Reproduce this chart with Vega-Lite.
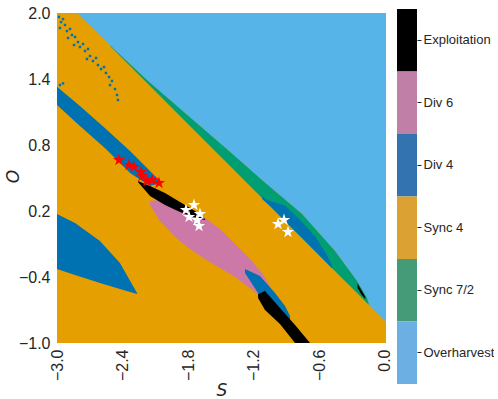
{
  "$schema": "https://vega.github.io/schema/vega-lite/v6.json",
  "padding": {"left": 4, "top": 5, "right": 0, "bottom": 0},
  "spacing": 4,
  "bounds": "full",
  "resolve": {"scale": {"color": "independent", "fill": "independent", "x": "independent", "y": "independent"}},
  "config": {
    "view": {"stroke": null},
    "axis": {"domain": false, "ticks": false, "grid": false, "labelFont": "Liberation Sans", "labelFontSize": 16, "labelColor": "#262626", "titleFont": "DejaVu Sans", "titleFontStyle": "italic", "titleFontWeight": "normal", "titleFontSize": 17, "titleColor": "#262626"},
    "axisX": {"labelAngle": 270, "labelPadding": 6, "titlePadding": 2},
    "axisY": {"labelPadding": 7, "titlePadding": -4}
  },
  "datasets": {
    "regions": [
      {"id": "l1", "cls": "Overharvest", "s": -2.817, "o": 2.0, "o2": 2.0},
      {"id": "l1", "cls": "Overharvest", "s": -2.46, "o": 1.655, "o2": 2.0},
      {"id": "l1", "cls": "Overharvest", "s": -2.167, "o": 1.382, "o2": 2.0},
      {"id": "l1", "cls": "Overharvest", "s": -1.829, "o": 1.091, "o2": 2.0},
      {"id": "l1", "cls": "Overharvest", "s": -1.426, "o": 0.745, "o2": 2.0},
      {"id": "l1", "cls": "Overharvest", "s": -1.115, "o": 0.473, "o2": 2.0},
      {"id": "l1", "cls": "Overharvest", "s": -0.758, "o": 0.173, "o2": 2.0},
      {"id": "l1", "cls": "Overharvest", "s": -0.457, "o": -0.164, "o2": 2.0},
      {"id": "l1", "cls": "Overharvest", "s": -0.255, "o": -0.436, "o2": 2.0},
      {"id": "l1", "cls": "Overharvest", "s": -0.164, "o": -0.591, "o2": 2.0},
      {"id": "l1", "cls": "Overharvest", "s": -0.145, "o": -0.655, "o2": 2.0},
      {"id": "l1", "cls": "Overharvest", "s": 0.01, "o": -0.81, "o2": 2.0},
      {"id": "g1", "cls": "Sync 7/2", "s": -2.515, "o": 1.7, "o2": 1.707},
      {"id": "g1", "cls": "Sync 7/2", "s": -2.46, "o": 1.645, "o2": 1.655},
      {"id": "g1", "cls": "Sync 7/2", "s": -2.167, "o": 1.355, "o2": 1.382},
      {"id": "g1", "cls": "Sync 7/2", "s": -1.829, "o": 1.018, "o2": 1.091},
      {"id": "g1", "cls": "Sync 7/2", "s": -1.426, "o": 0.618, "o2": 0.745},
      {"id": "g1", "cls": "Sync 7/2", "s": -1.115, "o": 0.309, "o2": 0.473},
      {"id": "g1", "cls": "Sync 7/2", "s": -0.758, "o": -0.045, "o2": 0.173},
      {"id": "g1", "cls": "Sync 7/2", "s": -0.457, "o": -0.345, "o2": -0.164},
      {"id": "g1", "cls": "Sync 7/2", "s": -0.255, "o": -0.545, "o2": -0.436},
      {"id": "g1", "cls": "Sync 7/2", "s": -0.164, "o": -0.636, "o2": -0.591},
      {"id": "g1", "cls": "Sync 7/2", "s": -0.145, "o": -0.655, "o2": -0.655},
      {"id": "p1", "cls": "Div 6", "s": -2.149, "o": 0.255, "o2": 0.291},
      {"id": "p1", "cls": "Div 6", "s": -2.058, "o": 0.11, "o2": 0.3},
      {"id": "p1", "cls": "Div 6", "s": -1.92, "o": -0.036, "o2": 0.264},
      {"id": "p1", "cls": "Div 6", "s": -1.783, "o": -0.145, "o2": 0.2},
      {"id": "p1", "cls": "Div 6", "s": -1.646, "o": -0.236, "o2": 0.136},
      {"id": "p1", "cls": "Div 6", "s": -1.509, "o": -0.318, "o2": 0.036},
      {"id": "p1", "cls": "Div 6", "s": -1.371, "o": -0.4, "o2": -0.1},
      {"id": "p1", "cls": "Div 6", "s": -1.234, "o": -0.5, "o2": -0.236},
      {"id": "p1", "cls": "Div 6", "s": -1.124, "o": -0.59, "o2": -0.364},
      {"id": "p1", "cls": "Div 6", "s": -1.051, "o": -0.62, "o2": -0.482},
      {"id": "b1", "cls": "Div 4", "s": -3.0, "o": 1.164, "o2": 1.33},
      {"id": "b1", "cls": "Div 4", "s": -2.79, "o": 0.973, "o2": 1.155},
      {"id": "b1", "cls": "Div 4", "s": -2.552, "o": 0.764, "o2": 0.945},
      {"id": "b1", "cls": "Div 4", "s": -2.332, "o": 0.545, "o2": 0.745},
      {"id": "b1", "cls": "Div 4", "s": -2.149, "o": 0.427, "o2": 0.564},
      {"id": "b1", "cls": "Div 4", "s": -2.058, "o": 0.455, "o2": 0.473},
      {"id": "b2", "cls": "Div 4", "s": -3.0, "o": -0.327, "o2": 0.173},
      {"id": "b2", "cls": "Div 4", "s": -2.835, "o": -0.382, "o2": 0.091},
      {"id": "b2", "cls": "Div 4", "s": -2.607, "o": -0.455, "o2": -0.073},
      {"id": "b2", "cls": "Div 4", "s": -2.424, "o": -0.509, "o2": -0.273},
      {"id": "b2", "cls": "Div 4", "s": -2.268, "o": -0.555, "o2": -0.545},
      {"id": "b3", "cls": "Div 4", "s": -1.28, "o": -0.364, "o2": -0.327},
      {"id": "b3", "cls": "Div 4", "s": -1.143, "o": -0.573, "o2": -0.391},
      {"id": "b3", "cls": "Div 4", "s": -1.005, "o": -0.727, "o2": -0.545},
      {"id": "b3", "cls": "Div 4", "s": -0.914, "o": -0.818, "o2": -0.664},
      {"id": "b3", "cls": "Div 4", "s": -0.868, "o": -0.782, "o2": -0.755},
      {"id": "b4", "cls": "Div 4", "s": -1.124, "o": 0.31, "o2": 0.33},
      {"id": "b4", "cls": "Div 4", "s": -1.051, "o": 0.245, "o2": 0.29},
      {"id": "b4", "cls": "Div 4", "s": -0.914, "o": 0.109, "o2": 0.25},
      {"id": "b4", "cls": "Div 4", "s": -0.777, "o": -0.027, "o2": 0.12},
      {"id": "b4", "cls": "Div 4", "s": -0.64, "o": -0.164, "o2": -0.03},
      {"id": "b4", "cls": "Div 4", "s": -0.53, "o": -0.273, "o2": -0.2},
      {"id": "b4", "cls": "Div 4", "s": -0.484, "o": -0.32, "o2": -0.3},
      {"id": "k1", "cls": "Exploitation", "s": -2.259, "o": 0.464, "o2": 0.473},
      {"id": "k1", "cls": "Exploitation", "s": -2.149, "o": 0.336, "o2": 0.427},
      {"id": "k1", "cls": "Exploitation", "s": -2.012, "o": 0.255, "o2": 0.364},
      {"id": "k1", "cls": "Exploitation", "s": -1.875, "o": 0.19, "o2": 0.282},
      {"id": "k1", "cls": "Exploitation", "s": -1.737, "o": 0.14, "o2": 0.2},
      {"id": "k1", "cls": "Exploitation", "s": -1.646, "o": 0.118, "o2": 0.127},
      {"id": "k2", "cls": "Exploitation", "s": -1.16, "o": -0.59, "o2": -0.555},
      {"id": "k2", "cls": "Exploitation", "s": -1.097, "o": -0.7, "o2": -0.527},
      {"id": "k2", "cls": "Exploitation", "s": -0.96, "o": -0.827, "o2": -0.682},
      {"id": "k2", "cls": "Exploitation", "s": -0.822, "o": -1.0, "o2": -0.836},
      {"id": "k2", "cls": "Exploitation", "s": -0.685, "o": -1.0, "o2": -1.0},
      {"id": "k3", "cls": "Exploitation", "s": -0.25, "o": -0.5, "o2": -0.46},
      {"id": "k3", "cls": "Exploitation", "s": -0.215, "o": -0.56, "o2": -0.52},
      {"id": "k3", "cls": "Exploitation", "s": -0.18, "o": -0.6, "o2": -0.58}
    ],
    "speckles": [
      {"s": -2.982, "o": 1.964}, {"s": -2.963, "o": 1.918}, {"s": -2.945, "o": 1.945}, {"s": -2.973, "o": 1.864},
      {"s": -2.927, "o": 1.891}, {"s": -2.909, "o": 1.836}, {"s": -2.881, "o": 1.855}, {"s": -2.863, "o": 1.8},
      {"s": -2.899, "o": 1.773}, {"s": -2.835, "o": 1.782}, {"s": -2.808, "o": 1.736}, {"s": -2.844, "o": 1.709},
      {"s": -2.79, "o": 1.691}, {"s": -2.762, "o": 1.718}, {"s": -2.744, "o": 1.655}, {"s": -2.716, "o": 1.673},
      {"s": -2.698, "o": 1.609}, {"s": -2.726, "o": 1.582}, {"s": -2.671, "o": 1.564}, {"s": -2.643, "o": 1.591},
      {"s": -2.625, "o": 1.527}, {"s": -2.597, "o": 1.491}, {"s": -2.57, "o": 1.509}, {"s": -2.552, "o": 1.455},
      {"s": -2.524, "o": 1.418}, {"s": -2.497, "o": 1.382}, {"s": -2.515, "o": 1.345}, {"s": -2.469, "o": 1.309},
      {"s": -2.451, "o": 1.255}, {"s": -2.442, "o": 1.209}, {"s": -2.652, "o": 0.964}, {"s": -2.607, "o": 0.945},
      {"s": -2.57, "o": 0.918}, {"s": -2.973, "o": 1.345}, {"s": -2.945, "o": 1.36}
    ],
    "stars": [
      {"set": "red", "s": -2.433, "o": 0.664},
      {"set": "red", "s": -2.341, "o": 0.618},
      {"set": "red", "s": -2.296, "o": 0.6},
      {"set": "red", "s": -2.231, "o": 0.555},
      {"set": "red", "s": -2.222, "o": 0.518},
      {"set": "red", "s": -2.177, "o": 0.473},
      {"set": "red", "s": -2.131, "o": 0.482},
      {"set": "red", "s": -2.067, "o": 0.455},
      {"set": "white", "s": -1.747, "o": 0.255},
      {"set": "white", "s": -1.82, "o": 0.209},
      {"set": "white", "s": -1.692, "o": 0.173},
      {"set": "white", "s": -1.792, "o": 0.145},
      {"set": "white", "s": -1.719, "o": 0.118},
      {"set": "white", "s": -1.701, "o": 0.064},
      {"set": "white", "s": -0.978, "o": 0.082},
      {"set": "white", "s": -0.923, "o": 0.118},
      {"set": "white", "s": -0.887, "o": 0.009}
    ],
    "classes": [
      {"cls": "Exploitation"}, {"cls": "Div 6"}, {"cls": "Div 4"}, {"cls": "Sync 4"}, {"cls": "Sync 7/2"}, {"cls": "Overharvest"}
    ]
  },
  "hconcat": [
    {
      "width": 329,
      "height": 334,
      "layer": [
        {
          "data": {"values": [{"cls": "Sync 4", "s": -3.0, "s2": 0.01, "o": -1.0, "o2": 2.0}]},
          "mark": {"type": "rect"},
          "encoding": {
            "x": {"field": "s", "type": "quantitative", "scale": {"domain": [-3, 0.01], "nice": false, "zero": false}, "axis": {"values": [-3, -2.4, -1.8, -1.2, -0.6, 0], "format": ".1f", "title": "S"}},
            "x2": {"field": "s2"},
            "y": {"field": "o", "type": "quantitative", "scale": {"domain": [-1, 2.0364], "nice": false, "zero": false}, "axis": {"values": [-1, -0.4, 0.2, 0.8, 1.4, 2], "format": ".1f", "title": "O"}},
            "y2": {"field": "o2"},
            "color": {"field": "cls", "type": "nominal", "scale": {"domain": ["Exploitation", "Div 6", "Div 4", "Sync 4", "Sync 7/2", "Overharvest"], "range": ["#000000", "#CC79A7", "#0072B2", "#E69F00", "#009E73", "#56B4E9"]}, "legend": null}
          }
        },
        {
          "data": {"name": "speckles"},
          "mark": {"type": "square", "size": 6, "filled": true, "opacity": 1, "color": "#0072B2"},
          "encoding": {
            "x": {"field": "s", "type": "quantitative", "axis": {"values": [-3, -2.4, -1.8, -1.2, -0.6, 0], "format": ".1f", "title": "S"}},
            "y": {"field": "o", "type": "quantitative", "axis": {"values": [-1, -0.4, 0.2, 0.8, 1.4, 2], "format": ".1f", "title": "O"}}
          }
        },
        {
          "data": {"name": "regions"},
          "transform": [{"filter": "datum.cls == 'Overharvest'"}],
          "mark": {"type": "area", "opacity": 1},
          "encoding": {
            "x": {"field": "s", "type": "quantitative", "axis": {"values": [-3, -2.4, -1.8, -1.2, -0.6, 0], "format": ".1f", "title": "S"}},
            "y": {"field": "o", "type": "quantitative", "axis": {"values": [-1, -0.4, 0.2, 0.8, 1.4, 2], "format": ".1f", "title": "O"}},
            "y2": {"field": "o2"},
            "detail": {"field": "id"},
            "color": {"field": "cls", "type": "nominal", "legend": null}
          }
        },
        {
          "data": {"name": "regions"},
          "transform": [{"filter": "datum.cls == 'Sync 7/2'"}],
          "mark": {"type": "area", "opacity": 1},
          "encoding": {
            "x": {"field": "s", "type": "quantitative", "axis": {"values": [-3, -2.4, -1.8, -1.2, -0.6, 0], "format": ".1f", "title": "S"}},
            "y": {"field": "o", "type": "quantitative", "axis": {"values": [-1, -0.4, 0.2, 0.8, 1.4, 2], "format": ".1f", "title": "O"}},
            "y2": {"field": "o2"},
            "detail": {"field": "id"},
            "color": {"field": "cls", "type": "nominal", "legend": null}
          }
        },
        {
          "data": {"name": "regions"},
          "transform": [{"filter": "datum.cls == 'Div 6'"}],
          "mark": {"type": "area", "opacity": 1},
          "encoding": {
            "x": {"field": "s", "type": "quantitative", "axis": {"values": [-3, -2.4, -1.8, -1.2, -0.6, 0], "format": ".1f", "title": "S"}},
            "y": {"field": "o", "type": "quantitative", "axis": {"values": [-1, -0.4, 0.2, 0.8, 1.4, 2], "format": ".1f", "title": "O"}},
            "y2": {"field": "o2"},
            "detail": {"field": "id"},
            "color": {"field": "cls", "type": "nominal", "legend": null}
          }
        },
        {
          "data": {"name": "regions"},
          "transform": [{"filter": "datum.cls == 'Div 4'"}],
          "mark": {"type": "area", "opacity": 1},
          "encoding": {
            "x": {"field": "s", "type": "quantitative", "axis": {"values": [-3, -2.4, -1.8, -1.2, -0.6, 0], "format": ".1f", "title": "S"}},
            "y": {"field": "o", "type": "quantitative", "axis": {"values": [-1, -0.4, 0.2, 0.8, 1.4, 2], "format": ".1f", "title": "O"}},
            "y2": {"field": "o2"},
            "detail": {"field": "id"},
            "color": {"field": "cls", "type": "nominal", "legend": null}
          }
        },
        {
          "data": {"name": "regions"},
          "transform": [{"filter": "datum.cls == 'Exploitation'"}],
          "mark": {"type": "area", "opacity": 1},
          "encoding": {
            "x": {"field": "s", "type": "quantitative", "axis": {"values": [-3, -2.4, -1.8, -1.2, -0.6, 0], "format": ".1f", "title": "S"}},
            "y": {"field": "o", "type": "quantitative", "axis": {"values": [-1, -0.4, 0.2, 0.8, 1.4, 2], "format": ".1f", "title": "O"}},
            "y2": {"field": "o2"},
            "detail": {"field": "id"},
            "color": {"field": "cls", "type": "nominal", "legend": null}
          }
        },
        {
          "data": {"name": "stars"},
          "transform": [{"filter": "datum.set == 'red'"}],
          "mark": {"type": "point", "shape": "M0,-1L0.225,-0.309L0.951,-0.309L0.363,0.118L0.588,0.809L0,0.382L-0.588,0.809L-0.363,0.118L-0.951,-0.309L-0.225,-0.309Z", "filled": true, "size": 170, "opacity": 1, "fill": "#FF0000", "strokeWidth": 0},
          "encoding": {
            "x": {"field": "s", "type": "quantitative", "axis": {"values": [-3, -2.4, -1.8, -1.2, -0.6, 0], "format": ".1f", "title": "S"}},
            "y": {"field": "o", "type": "quantitative", "axis": {"values": [-1, -0.4, 0.2, 0.8, 1.4, 2], "format": ".1f", "title": "O"}}
          }
        },
        {
          "data": {"name": "stars"},
          "transform": [{"filter": "datum.set == 'white'"}],
          "mark": {"type": "point", "shape": "M0,-1L0.225,-0.309L0.951,-0.309L0.363,0.118L0.588,0.809L0,0.382L-0.588,0.809L-0.363,0.118L-0.951,-0.309L-0.225,-0.309Z", "filled": true, "size": 170, "opacity": 1, "fill": "#FFFFFF", "strokeWidth": 0},
          "encoding": {
            "x": {"field": "s", "type": "quantitative", "axis": {"values": [-3, -2.4, -1.8, -1.2, -0.6, 0], "format": ".1f", "title": "S"}},
            "y": {"field": "o", "type": "quantitative", "axis": {"values": [-1, -0.4, 0.2, 0.8, 1.4, 2], "format": ".1f", "title": "O"}}
          }
        }
      ]
    },
    {
      "width": 20,
      "height": 375,
      "data": {"name": "classes"},
      "mark": {"type": "rect"},
      "encoding": {
        "y": {"field": "cls", "type": "nominal", "sort": ["Exploitation", "Div 6", "Div 4", "Sync 4", "Sync 7/2", "Overharvest"], "scale": {"paddingInner": 0, "paddingOuter": 0}, "axis": {"orient": "right", "title": null, "domain": false, "ticks": true, "tickSize": 4, "tickColor": "#262626", "labelFontSize": 13, "labelPadding": 2, "labelColor": "#262626"}},
        "fill": {"field": "cls", "type": "nominal", "scale": {"domain": ["Exploitation", "Div 6", "Div 4", "Sync 4", "Sync 7/2", "Overharvest"], "range": ["#000000", "#C07FA6", "#3373B0", "#DBA133", "#459A77", "#6CAFE2"]}, "legend": null}
      }
    }
  ]
}
